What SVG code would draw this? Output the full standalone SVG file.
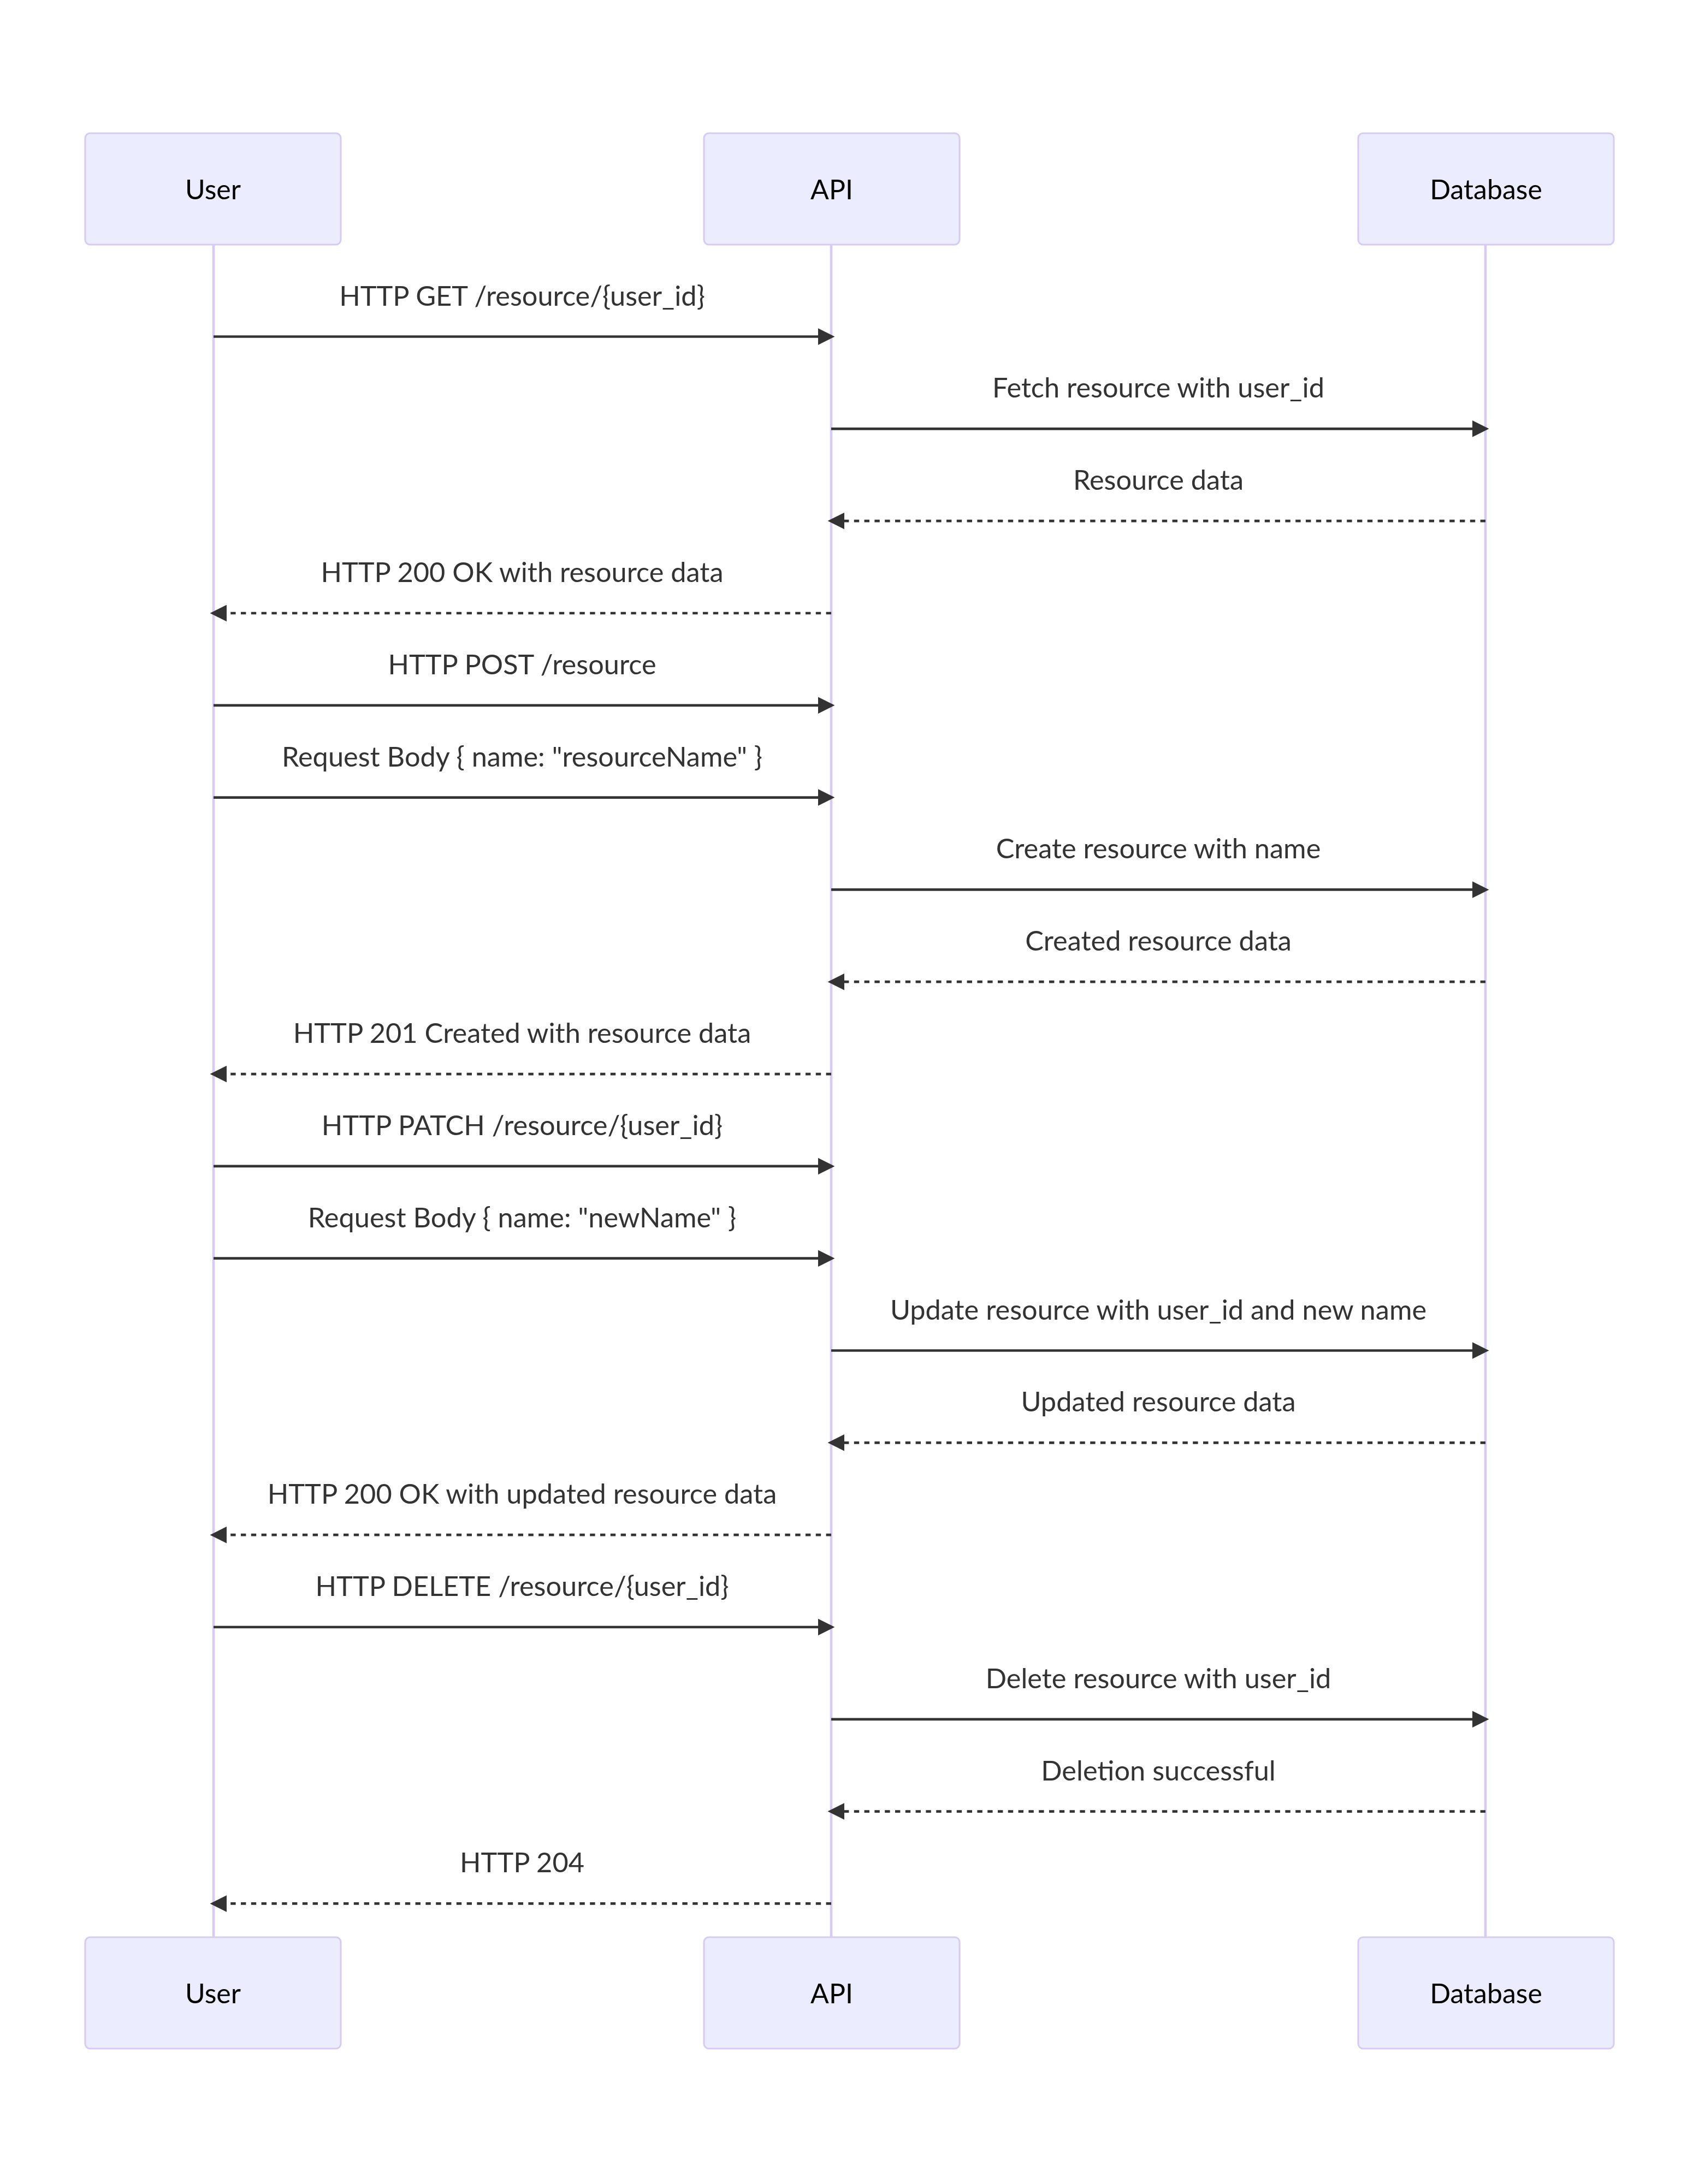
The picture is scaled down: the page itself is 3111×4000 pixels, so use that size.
<svg xmlns="http://www.w3.org/2000/svg" width="3111" height="4000" viewBox="0 0 3111 4000">
<style>
.actor{fill:#ECECFF;stroke:#D7CBF2;stroke-width:3.1}
.atext{font-family:Lato,"Open Sans","Liberation Sans",sans-serif;font-size:50px;fill:#000;text-anchor:middle;dominant-baseline:central}
.life{stroke:#D7CBF2;stroke-width:4.7}
.msg{stroke:#333;stroke-width:4.7;fill:none;marker-end:url(#arrow)}
.dash{stroke-dasharray:9.4 9.4}
.mtext{font-family:Lato,"Open Sans","Liberation Sans",sans-serif;font-size:50.5px;fill:#333;text-anchor:middle}
</style>
<defs>
<marker id="arrow" viewBox="0 0 10 10" refX="7.9" refY="5" markerUnits="userSpaceOnUse" markerWidth="31" markerHeight="31" orient="auto">
<path d="M0,0 L10,5 L0,10 z" fill="#333"/>
</marker>
</defs>
<rect width="3111" height="4000" fill="#fff"/>
<g id="lifelines">
<line class="life" x1="391" y1="448" x2="391" y2="3548"/>
<line class="life" x1="1522" y1="448" x2="1522" y2="3548"/>
<line class="life" x1="2720" y1="448" x2="2720" y2="3548"/>
</g>
<g id="actor-user-top"><rect class="actor" x="156" y="244" width="468" height="204" rx="9"/><text class="atext" x="390" y="346">User</text></g>
<g id="actor-api-top"><rect class="actor" x="1289" y="244" width="468" height="204" rx="9"/><text class="atext" x="1523" y="346">API</text></g>
<g id="actor-db-top"><rect class="actor" x="2487" y="244" width="468" height="204" rx="9"/><text class="atext" x="2721" y="346">Database</text></g>
<g id="actor-user-bottom"><rect class="actor" x="156" y="3548" width="468" height="204" rx="9"/><text class="atext" x="390" y="3650">User</text></g>
<g id="actor-api-bottom"><rect class="actor" x="1289" y="3548" width="468" height="204" rx="9"/><text class="atext" x="1523" y="3650">API</text></g>
<g id="actor-db-bottom"><rect class="actor" x="2487" y="3548" width="468" height="204" rx="9"/><text class="atext" x="2721" y="3650">Database</text></g>
<g id="messages">
<text class="mtext" x="956" y="559.5">HTTP GET /resource/{user_id}</text>
<line class="msg" x1="391" y1="616.5" x2="1522" y2="616.5"/>
<text class="mtext" x="2121" y="728.3">Fetch resource with user_id</text>
<line class="msg" x1="1522" y1="785.3" x2="2720" y2="785.3"/>
<text class="mtext" x="2121" y="897.1">Resource data</text>
<line class="msg dash" x1="2720" y1="954.1" x2="1522" y2="954.1"/>
<text class="mtext" x="956" y="1066">HTTP 200 OK with resource data</text>
<line class="msg dash" x1="1522" y1="1123" x2="391" y2="1123"/>
<text class="mtext" x="956" y="1234.8">HTTP POST /resource</text>
<line class="msg" x1="391" y1="1291.8" x2="1522" y2="1291.8"/>
<text class="mtext" x="956" y="1403.6">Request Body { name: "resourceName" }</text>
<line class="msg" x1="391" y1="1460.6" x2="1522" y2="1460.6"/>
<text class="mtext" x="2121" y="1572.4">Create resource with name</text>
<line class="msg" x1="1522" y1="1629.4" x2="2720" y2="1629.4"/>
<text class="mtext" x="2121" y="1741.2">Created resource data</text>
<line class="msg dash" x1="2720" y1="1798.2" x2="1522" y2="1798.2"/>
<text class="mtext" x="956" y="1910.1">HTTP 201 Created with resource data</text>
<line class="msg dash" x1="1522" y1="1967.1" x2="391" y2="1967.1"/>
<text class="mtext" x="956" y="2078.9">HTTP PATCH /resource/{user_id}</text>
<line class="msg" x1="391" y1="2135.9" x2="1522" y2="2135.9"/>
<text class="mtext" x="956" y="2247.7">Request Body { name: "newName" }</text>
<line class="msg" x1="391" y1="2304.7" x2="1522" y2="2304.7"/>
<text class="mtext" x="2121" y="2416.5">Update resource with user_id and new name</text>
<line class="msg" x1="1522" y1="2473.5" x2="2720" y2="2473.5"/>
<text class="mtext" x="2121" y="2585.3">Updated resource data</text>
<line class="msg dash" x1="2720" y1="2642.3" x2="1522" y2="2642.3"/>
<text class="mtext" x="956" y="2754.2">HTTP 200 OK with updated resource data</text>
<line class="msg dash" x1="1522" y1="2811.2" x2="391" y2="2811.2"/>
<text class="mtext" x="956" y="2923">HTTP DELETE /resource/{user_id}</text>
<line class="msg" x1="391" y1="2980" x2="1522" y2="2980"/>
<text class="mtext" x="2121" y="3091.8">Delete resource with user_id</text>
<line class="msg" x1="1522" y1="3148.8" x2="2720" y2="3148.8"/>
<text class="mtext" x="2121" y="3260.6">Deletion successful</text>
<line class="msg dash" x1="2720" y1="3317.6" x2="1522" y2="3317.6"/>
<text class="mtext" x="956" y="3429.4">HTTP 204</text>
<line class="msg dash" x1="1522" y1="3486.4" x2="391" y2="3486.4"/>
</g>
</svg>
